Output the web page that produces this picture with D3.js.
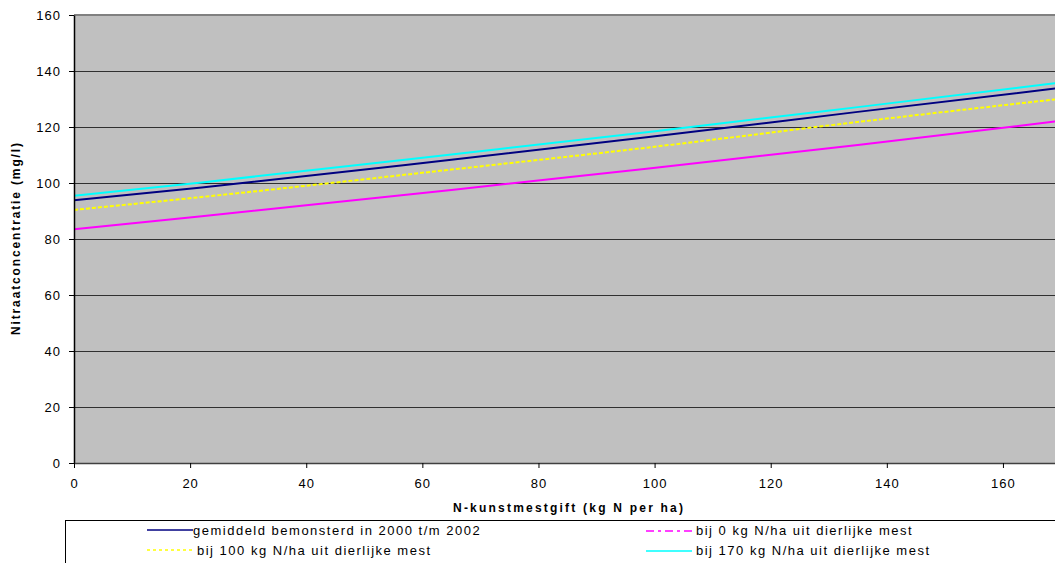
<!DOCTYPE html>
<html>
<head>
<meta charset="utf-8">
<script src="https://cdn.jsdelivr.net/npm/d3@7"></script>
<style>
  html, body { margin: 0; padding: 0; background: #ffffff; }
  svg { display: block; font-family: Arial, "Liberation Sans", sans-serif; }
</style>
</head>
<body>
<svg id="chart" width="1055" height="563"></svg>
<script>
// ---- data ----
const xValues = [0, 22, 65, 99, 135, 170];
const seriesNames = [
  "gemiddeld bemonsterd in 2000 t/m 2002",
  "bij 0 kg N/ha uit dierlijke mest",
  "bij 100 kg N/ha uit dierlijke mest",
  "bij 170 kg N/ha uit dierlijke mest"
];
const gemiddeld = [93.8, 98.4, 108.3, 116.4, 125.4, 134.0];
const bij0 = [83.5, 88.1, 97.5, 105.2, 113.6, 122.2];
const bij100 = [90.4, 95.0, 104.8, 112.7, 121.8, 130.1];
const bij170 = [95.4, 100.2, 110.2, 118.2, 127.1, 135.9];
const xTicks = [0, 20, 40, 60, 80, 100, 120, 140, 160];
const yTicks = [0, 20, 40, 60, 80, 100, 120, 140, 160];
const xTitle = "N-kunstmestgift (kg N per ha)";
const yTitle = "Nitraatconcentratie (mg/l)";

// ---- styles ----
const seriesStyles = [
  { color: "#000080", dash: null, legendDash: null },
  { color: "#FF00FF", dash: null, legendDash: "8,4,3,4" },
  { color: "#FFFF00", dash: "4,2", legendDash: "3,3" },
  { color: "#00FFFF", dash: null, legendDash: null }
];
const seriesValues = [gemiddeld, bij0, bij100, bij170];

const svg = d3.select("#chart");
const plot = { left: 74, top: 15, bottom: 463, right: 1061 };

const x = d3.scaleLinear().domain([0, 170]).range([plot.left, plot.right]);
const y = d3.scaleLinear().domain([0, 160]).range([plot.bottom, plot.top]);

// plot background
svg.append("rect")
  .attr("x", plot.left).attr("y", plot.top)
  .attr("width", plot.right - plot.left).attr("height", plot.bottom - plot.top)
  .attr("fill", "#C0C0C0");

// gridlines
svg.append("g").selectAll("line")
  .data(yTicks.filter(d => d > 0 && d < 160))
  .join("line")
  .attr("x1", plot.left).attr("x2", plot.right)
  .attr("y1", d => Math.round(y(d)) + 0.5).attr("y2", d => Math.round(y(d)) + 0.5)
  .attr("stroke", "#303030").attr("stroke-width", 1);

// top border
svg.append("line")
  .attr("x1", plot.left).attr("x2", plot.right)
  .attr("y1", plot.top).attr("y2", plot.top)
  .attr("stroke", "#808080").attr("stroke-width", 2);

// series lines
svg.append("clipPath").attr("id", "clip")
  .append("rect").attr("x", plot.left).attr("y", plot.top)
  .attr("width", plot.right - plot.left).attr("height", plot.bottom - plot.top);

const line = d3.line().x(d => x(d[0])).y(d => y(d[1])).curve(d3.curveMonotoneX);
const gLines = svg.append("g").attr("clip-path", "url(#clip)");
seriesValues.forEach((vals, i) => {
  const pts = xValues.map((xv, j) => [xv, vals[j]]);
  gLines.append("path")
    .attr("d", line(pts))
    .attr("fill", "none")
    .attr("stroke", seriesStyles[i].color)
    .attr("stroke-width", 2)
    .attr("stroke-dasharray", seriesStyles[i].dash);
});

// y axis
const yAxis = d3.axisLeft(y).tickValues(yTicks).tickSize(5).tickPadding(8).tickSizeOuter(0);
const gy = svg.append("g").attr("transform", `translate(${plot.left},0)`).call(yAxis);
gy.select(".domain").attr("stroke", "#000").attr("stroke-width", 1.5);
gy.selectAll(".tick line").attr("stroke", "#000");
gy.selectAll(".tick text")
  .attr("font-size", 13).attr("fill", "#000")
  .attr("font-family", "Arial, 'Liberation Sans', sans-serif")
  .style("letter-spacing", "1px")
  .attr("dy", "0.35em");

// x axis
const xAxis = d3.axisBottom(x).tickValues(xTicks).tickSize(5).tickPadding(8).tickSizeOuter(0);
const gx = svg.append("g").attr("transform", `translate(0,${plot.bottom})`).call(xAxis);
gx.select(".domain").attr("stroke", "#404040").attr("stroke-width", 1.5);
gx.selectAll(".tick line").attr("stroke", "#000");
gx.selectAll(".tick text")
  .attr("font-size", 13).attr("fill", "#000")
  .attr("font-family", "Arial, 'Liberation Sans', sans-serif")
  .style("letter-spacing", "1px")
  .attr("y", 25).attr("dy", 0);

// axis titles
svg.append("text")
  .attr("x", 453).attr("y", 512)
  .attr("font-size", 12).attr("font-weight", "bold")
  .attr("textLength", 230).attr("lengthAdjust", "spacing")
  .text(xTitle);

svg.append("text")
  .attr("transform", "translate(20,335) rotate(-90)")
  .attr("font-size", 12).attr("font-weight", "bold")
  .attr("textLength", 192).attr("lengthAdjust", "spacing")
  .text(yTitle);

// legend
svg.append("rect")
  .attr("x", 65.5).attr("y", 520.5)
  .attr("width", 1100).attr("height", 100)
  .attr("fill", "#fff").attr("stroke", "#000").attr("stroke-width", 1);

const legendPos = [
  { lx: 147, ly: 530, tx: 193, ty: 534.5 },
  { lx: 646, ly: 531, tx: 696, ty: 534.5 },
  { lx: 147, ly: 550, tx: 197, ty: 554.5 },
  { lx: 646, ly: 551, tx: 696, ty: 554.5 }
];
const gLeg = svg.append("g");
seriesNames.forEach((name, i) => {
  const p = legendPos[i];
  gLeg.append("line")
    .attr("x1", p.lx).attr("x2", p.lx + 46)
    .attr("y1", p.ly).attr("y2", p.ly)
    .attr("stroke", seriesStyles[i].color)
    .attr("stroke-width", 1.5)
    .attr("stroke-dasharray", seriesStyles[i].legendDash);
  gLeg.append("text")
    .attr("x", p.tx).attr("y", p.ty)
    .attr("font-size", 13)
    .style("letter-spacing", "1.5px")
    .text(name);
});
</script>
</body>
</html>
